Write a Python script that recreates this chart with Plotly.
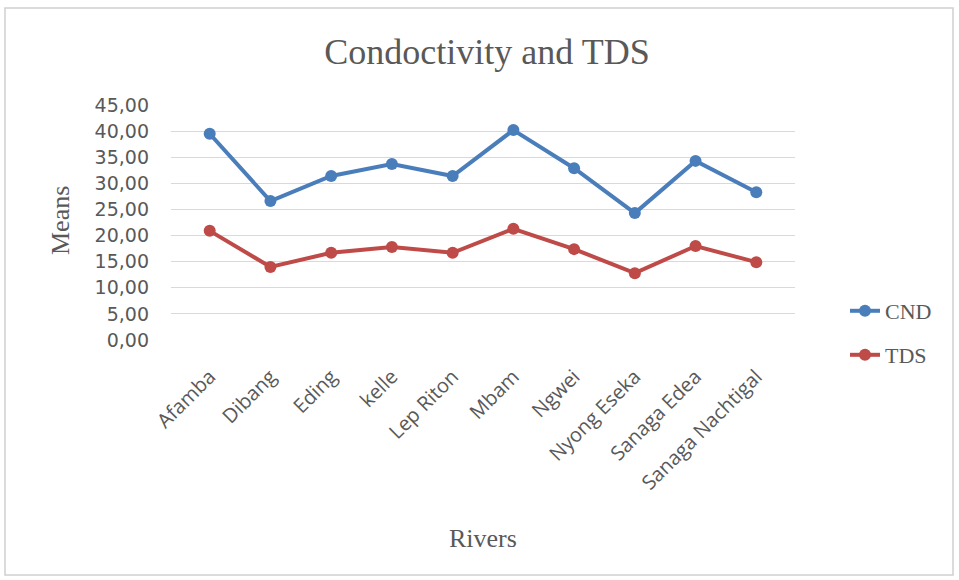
import plotly.graph_objects as go

rivers = ["Afamba", "Dibang", "Eding", "kelle", "Lep Riton", "Mbam", "Ngwei",
          "Nyong Eseka", "Sanaga Edea", "Sanaga Nachtigal"]
cnd = [39.5, 26.6, 31.4, 33.7, 31.4, 40.2, 32.9, 24.3, 34.3, 28.3]
tds = [20.9, 14.0, 16.7, 17.8, 16.7, 21.3, 17.4, 12.8, 18.0, 14.9]
ytick_vals = [0, 5, 10, 15, 20, 25, 30, 35, 40, 45]
ytick_text = ["0,00", "5,00", "10,00", "15,00", "20,00", "25,00", "30,00", "35,00", "40,00", "45,00"]

blue = "#4a7ebb"
red = "#be4b48"
grey = "#595959"

fig = go.Figure()
fig.add_trace(go.Scatter(x=rivers, y=cnd, mode="lines+markers", name="CND",
                         line=dict(color=blue, width=4), marker=dict(size=12, color=blue),
                         legend="legend"))
fig.add_trace(go.Scatter(x=rivers, y=tds, mode="lines+markers", name="TDS",
                         line=dict(color=red, width=4), marker=dict(size=12, color=red),
                         legend="legend2"))

L, R, T, B = 171, 795, 105, 340
W, H = 959, 580
pw, ph = R - L, B - T

def px(x):
    return (x - L) / pw

def py(y):
    return (B - y) / ph

fig.update_layout(
    width=W, height=H,
    margin=dict(l=L, r=W - R, t=T, b=H - B),
    paper_bgcolor="white", plot_bgcolor="white",
    title=dict(text="Condoctivity and TDS", x=487 / W, xanchor="center",
               y=1 - 51 / H, yanchor="middle",
               font=dict(family="Liberation Serif", size=36, color=grey)),
    xaxis=dict(showgrid=False, showline=False, ticks="", tickangle=-45,
               ticklabelstandoff=20,
               tickfont=dict(family="Open Sans", size=20, color=grey)),
    yaxis=dict(range=[0, 45], tickvals=ytick_vals, ticktext=ytick_text,
               showgrid=True, gridcolor="#d9d9d9", gridwidth=1.3, zeroline=False,
               showline=False, ticks="", ticklabelstandoff=21,
               tickfont=dict(family="DejaVu Sans", size=19, color=grey)),
    legend=dict(x=px(845), y=py(311), xanchor="left", yanchor="middle",
                font=dict(family="Liberation Serif", size=22, color=grey),
                bgcolor="rgba(0,0,0,0)"),
    legend2=dict(x=px(845), y=py(355), xanchor="left", yanchor="middle",
                 font=dict(family="Liberation Serif", size=22, color=grey),
                 bgcolor="rgba(0,0,0,0)"),
    showlegend=True,
)

fig.add_annotation(text="Rivers", xref="paper", yref="paper", x=px(483), y=py(538),
                   xanchor="center", yanchor="middle", showarrow=False,
                   font=dict(family="Liberation Serif", size=26, color=grey))
fig.add_annotation(text="Means", xref="paper", yref="paper", x=px(60), y=py(221),
                   xanchor="center", yanchor="middle", showarrow=False, textangle=-90,
                   font=dict(family="Liberation Serif", size=26, color=grey))

fig.add_shape(type="rect", xref="paper", yref="paper",
              x0=px(5), x1=px(953), y0=py(575), y1=py(8),
              line=dict(color="#d0d0d0", width=1.5), layer="below")

fig.write_html("out.html")
